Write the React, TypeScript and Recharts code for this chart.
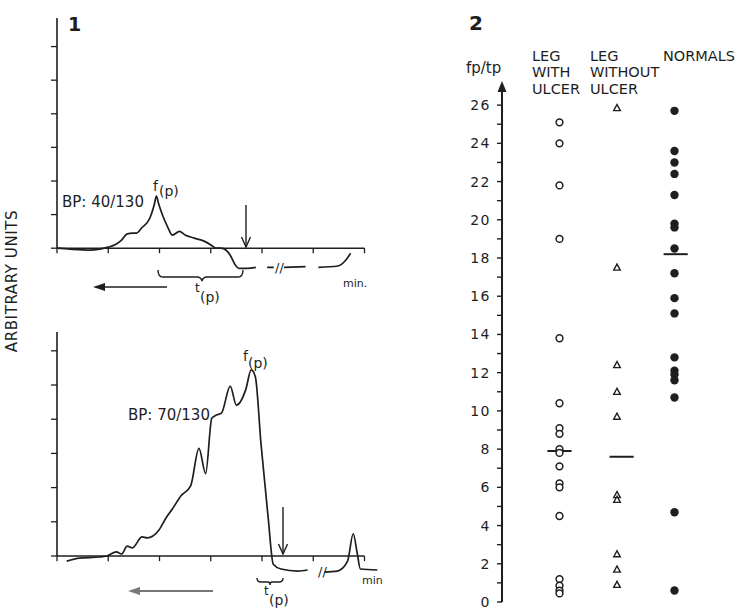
import React from 'react'
import { LineChart, Line, XAxis, YAxis, ReferenceLine, ScatterChart, Scatter } from 'recharts'

// panel 1, upper trace (BP 40/130) - time in tick units, signal in arbitrary units
const topTime = [0, 0.25, 0.64, 0.83, 1.0, 1.15, 1.26, 1.36, 1.48, 1.55, 1.65, 1.81, 1.9, 1.94, 1.98, 2.06, 2.16, 2.25, 2.39, 2.5, 2.68, 2.87, 3.01, 3.1, 3.2, 3.3, 3.38, 3.48, 3.55, 3.71, 3.88, 3.95, 4.1, 4.23, 4.3, 4.43, 4.85, 4.95, 5.1, 5.48, 5.62, 5.73]
const topSignal = [0, -0.03, -0.06, -0.03, 0.03, 0.12, 0.24, 0.42, 0.45, 0.45, 0.6, 0.89, 1.31, 1.55, 1.34, 0.98, 0.63, 0.39, 0.5, 0.39, 0.3, 0.21, 0.09, 0, 0, -0.06, -0.21, -0.5, -0.6, -0.6, -0.57, null, -0.57, -0.57, null, -0.57, -0.55, null, -0.57, -0.53, -0.38, -0.15]

// panel 1, lower trace (BP 70/130)
const bottomTime = [0.19, 0.44, 0.83, 0.97, 1.16, 1.26, 1.37, 1.47, 1.66, 1.76, 1.99, 2.13, 2.24, 2.42, 2.61, 2.77, 2.9, 3.02, 3.11, 3.21, 3.38, 3.5, 3.68, 3.79, 3.87, 3.98, 4.12, 4.22, 4.37, 4.7, 4.89, 5.0, 5.22, 5.47, 5.67, 5.78, 5.86, 5.92, 6.25]
const bottomSignal = [-0.15, -0.06, -0.03, 0, 0.12, 0.06, 0.29, 0.24, 0.56, 0.53, 0.76, 1.12, 1.35, 1.76, 2.06, 3.15, 2.41, 4.03, 4.12, 4.18, 4.97, 4.41, 4.85, 5.44, 5.24, 3.29, 1.12, -0.24, -0.38, -0.44, -0.41, null, -0.47, -0.44, -0.15, 0.65, 0.06, -0.38, -0.41]

const traceXTicks = [0, 1, 2, 3, 4, 5, 6]
const traceYTicks = [0, 1, 2, 3, 4, 5, 6]

// panel 2, fp/tp ratios
const groups = ['LEG WITH ULCER', 'LEG WITHOUT ULCER', 'NORMALS']
const withUlcer = [25.1, 24.0, 21.8, 19.0, 13.8, 10.4, 9.1, 8.8, 8.0, 7.8, 7.1, 6.2, 6.0, 4.5, 1.2, 0.85, 0.6, 0.45]
const withoutUlcer = [25.85, 17.5, 12.4, 11.0, 9.7, 5.6, 5.35, 2.5, 1.7, 0.9]
const normals = [25.7, 23.6, 23.0, 22.4, 21.3, 19.8, 19.6, 18.5, 17.2, 15.9, 15.1, 12.8, 12.1, 11.9, 11.6, 10.7, 4.7, 0.6]
const medians = [7.9, 7.6, 18.2]
const ratioTicks = Array.from({ length: 27 }, (_, i) => i)

const ink = '#1e1e1e'
const font = "'DejaVu Sans', sans-serif"

const zip = (t: number[], v: (number | null)[]) => t.map((x, i) => ({ t: x, v: v[i] }))
const points = (vals: number[], col: number) => vals.map((y) => ({ x: col, y }))

const OpenCircle = (p: any) => <circle cx={p.cx} cy={p.cy} r={3.4} fill="#fff" stroke={ink} strokeWidth={1.5} />
const OpenTriangle = (p: any) => (
  <polygon points={`${p.cx},${p.cy - 3.5} ${p.cx - 3.3},${p.cy + 2.6} ${p.cx + 3.3},${p.cy + 2.6}`} fill="#fff" stroke={ink} strokeWidth={1.4} />
)
const Dot = (p: any) => <circle cx={p.cx} cy={p.cy} r={4.2} fill={ink} />

function Trace({ data, yMax, height, top, bottom }: any) {
  return (
    <LineChart width={400} height={height} data={data} margin={{ top, right: 15, bottom, left: 51 }}>
      <XAxis type="number" dataKey="t" domain={[0, 6.4]} hide allowDataOverflow />
      <YAxis
        type="number"
        domain={[-1.5, yMax]}
        ticks={traceYTicks}
        allowDataOverflow
        axisLine={false}
        tickLine={{ stroke: ink, strokeWidth: 1.3 }}
        tickSize={6}
        tickFormatter={() => ''}
        width={6}
      />
      <ReferenceLine segment={[{ x: 0, y: 0 }, { x: 0, y: yMax }]} stroke={ink} strokeWidth={1.6} ifOverflow="visible" />
      <ReferenceLine segment={[{ x: 0, y: 0 }, { x: 6, y: 0 }]} stroke={ink} strokeWidth={1.6} ifOverflow="visible" />
      {traceXTicks.map((t) => (
        <ReferenceLine key={t} segment={[{ x: t, y: 0 }, { x: t, y: -0.15 }]} stroke={ink} strokeWidth={1.3} ifOverflow="visible" />
      ))}
      <Line type="monotone" dataKey="v" stroke={ink} strokeWidth={1.7} dot={false} isAnimationActive={false} />
    </LineChart>
  )
}

export default function App() {
  const colX = [1, 2.08, 3.02]
  return (
    <div style={{ position: 'relative', width: 737, height: 609, background: '#fff', fontFamily: font }}>
      <style>{'body{margin:0}'}</style>

      <div style={{ position: 'absolute', left: 0, top: 0 }}>
        <Trace data={zip(topTime, topSignal)} yMax={6.85} height={300} top={18} bottom={1.4} />
      </div>
      <div style={{ position: 'absolute', left: 0, top: 310 }}>
        <Trace data={zip(bottomTime, bottomSignal)} yMax={6.55} height={299} top={22} bottom={1.7} />
      </div>

      <div style={{ position: 'absolute', left: 440, top: 0 }}>
        <ScatterChart width={297} height={609} margin={{ top: 86, right: 28, bottom: 7, left: 22 }}>
          <XAxis type="number" dataKey="x" domain={[0, 3.6]} hide />
          <YAxis
            type="number"
            dataKey="y"
            domain={[0, 27]}
            ticks={ratioTicks}
            interval={0}
            width={40}
            axisLine={{ stroke: ink, strokeWidth: 2 }}
            tickLine={{ stroke: ink, strokeWidth: 1.4 }}
            tickSize={5}
            tickMargin={6}
            tickFormatter={(v: number) => (v % 2 === 0 ? String(v) : '')}
            tick={{ fill: ink, fontSize: 14, fontFamily: font, letterSpacing: 1.5 }}
          />
          {medians.map((m, i) => (
            <ReferenceLine key={groups[i]} segment={[{ x: colX[i] - 0.21, y: m }, { x: colX[i] + 0.21, y: m }]} stroke={ink} strokeWidth={2} />
          ))}
          <Scatter name={groups[0]} data={points(withUlcer, 1)} shape={OpenCircle} isAnimationActive={false} />
          <Scatter name={groups[1]} data={points(withoutUlcer, 2)} shape={OpenTriangle} isAnimationActive={false} />
          <Scatter name={groups[2]} data={points(normals, 3)} shape={Dot} isAnimationActive={false} />
        </ScatterChart>
      </div>

      <svg width={737} height={609} style={{ position: 'absolute', left: 0, top: 0, pointerEvents: 'none' }} fontFamily={font} fill={ink}>
        {/* panel 1 */}
        <text x={68} y={31} fontSize={19} fontWeight="bold">1</text>
        <text transform="translate(17,281) rotate(-90)" textAnchor="middle" fontSize={15} letterSpacing={0.6}>ARBITRARY UNITS</text>

        <text x={62} y={207} fontSize={15}>BP: 40/130</text>
        <text x={153} y={191} fontSize={14}>f</text>
        <text x={159} y={196} fontSize={14}>(p)</text>
        <line x1={246} y1={205} x2={246} y2={247} stroke={ink} strokeWidth={1.4} />
        <polyline points="241.5,237 246,247 250.5,237" fill="none" stroke={ink} strokeWidth={1.4} />
        <path d="M158,270 Q158,277 163,277 L197,277 Q201,277 202,281 Q203,277 207,277 L238,277 Q243,277 243,270" fill="none" stroke={ink} strokeWidth={1.4} />
        <text x={195} y={292} fontSize={12}>t</text>
        <text x={200} y={302} fontSize={14}>(p)</text>
        <line x1={103} y1={287} x2={167} y2={287} stroke={ink} strokeWidth={1.6} />
        <polygon points="93,287 105,283 105,291" />
        <text x={343} y={287} fontSize={11}>min.</text>
        <text x={275} y={272} fontSize={13}>//</text>

        <text x={128} y={420} fontSize={15}>BP: 70/130</text>
        <text x={243} y={361} fontSize={14}>f</text>
        <text x={248} y={368} fontSize={14}>(p)</text>
        <line x1={283} y1={507} x2={283} y2={554} stroke={ink} strokeWidth={1.4} />
        <polyline points="278.5,544 283,554 287.5,544" fill="none" stroke={ink} strokeWidth={1.4} />
        <path d="M257,578 Q257,582 261,582 L268,582 Q270,582 270,585 Q270,582 272,582 L279,582 Q283,582 283,578" fill="none" stroke={ink} strokeWidth={1.4} />
        <text x={264} y={595} fontSize={12}>t</text>
        <text x={269} y={605} fontSize={14}>(p)</text>
        <line x1={138} y1={591} x2={213} y2={591} stroke="#777" strokeWidth={1.8} />
        <polygon points="128,591 140,587 140,595" fill="#777" />
        <text x={362} y={584} fontSize={11}>min</text>
        <text x={318} y={576} fontSize={13}>//</text>

        {/* panel 2 */}
        <text x={469} y={30} fontSize={20} fontWeight="bold">2</text>
        <text x={466} y={73} fontSize={15}>fp/tp</text>
        <polygon points="502,81 497.5,92 506.5,92" />
        <text x={532} y={61} fontSize={14.5}>LEG</text>
        <text x={532} y={77} fontSize={14.5}>WITH</text>
        <text x={532} y={94} fontSize={14.5}>ULCER</text>
        <text x={590} y={61} fontSize={14.5}>LEG</text>
        <text x={590} y={77} fontSize={14.5}>WITHOUT</text>
        <text x={590} y={94} fontSize={14.5}>ULCER</text>
        <text x={663} y={61} fontSize={14.5}>NORMALS</text>
      </svg>
    </div>
  )
}
